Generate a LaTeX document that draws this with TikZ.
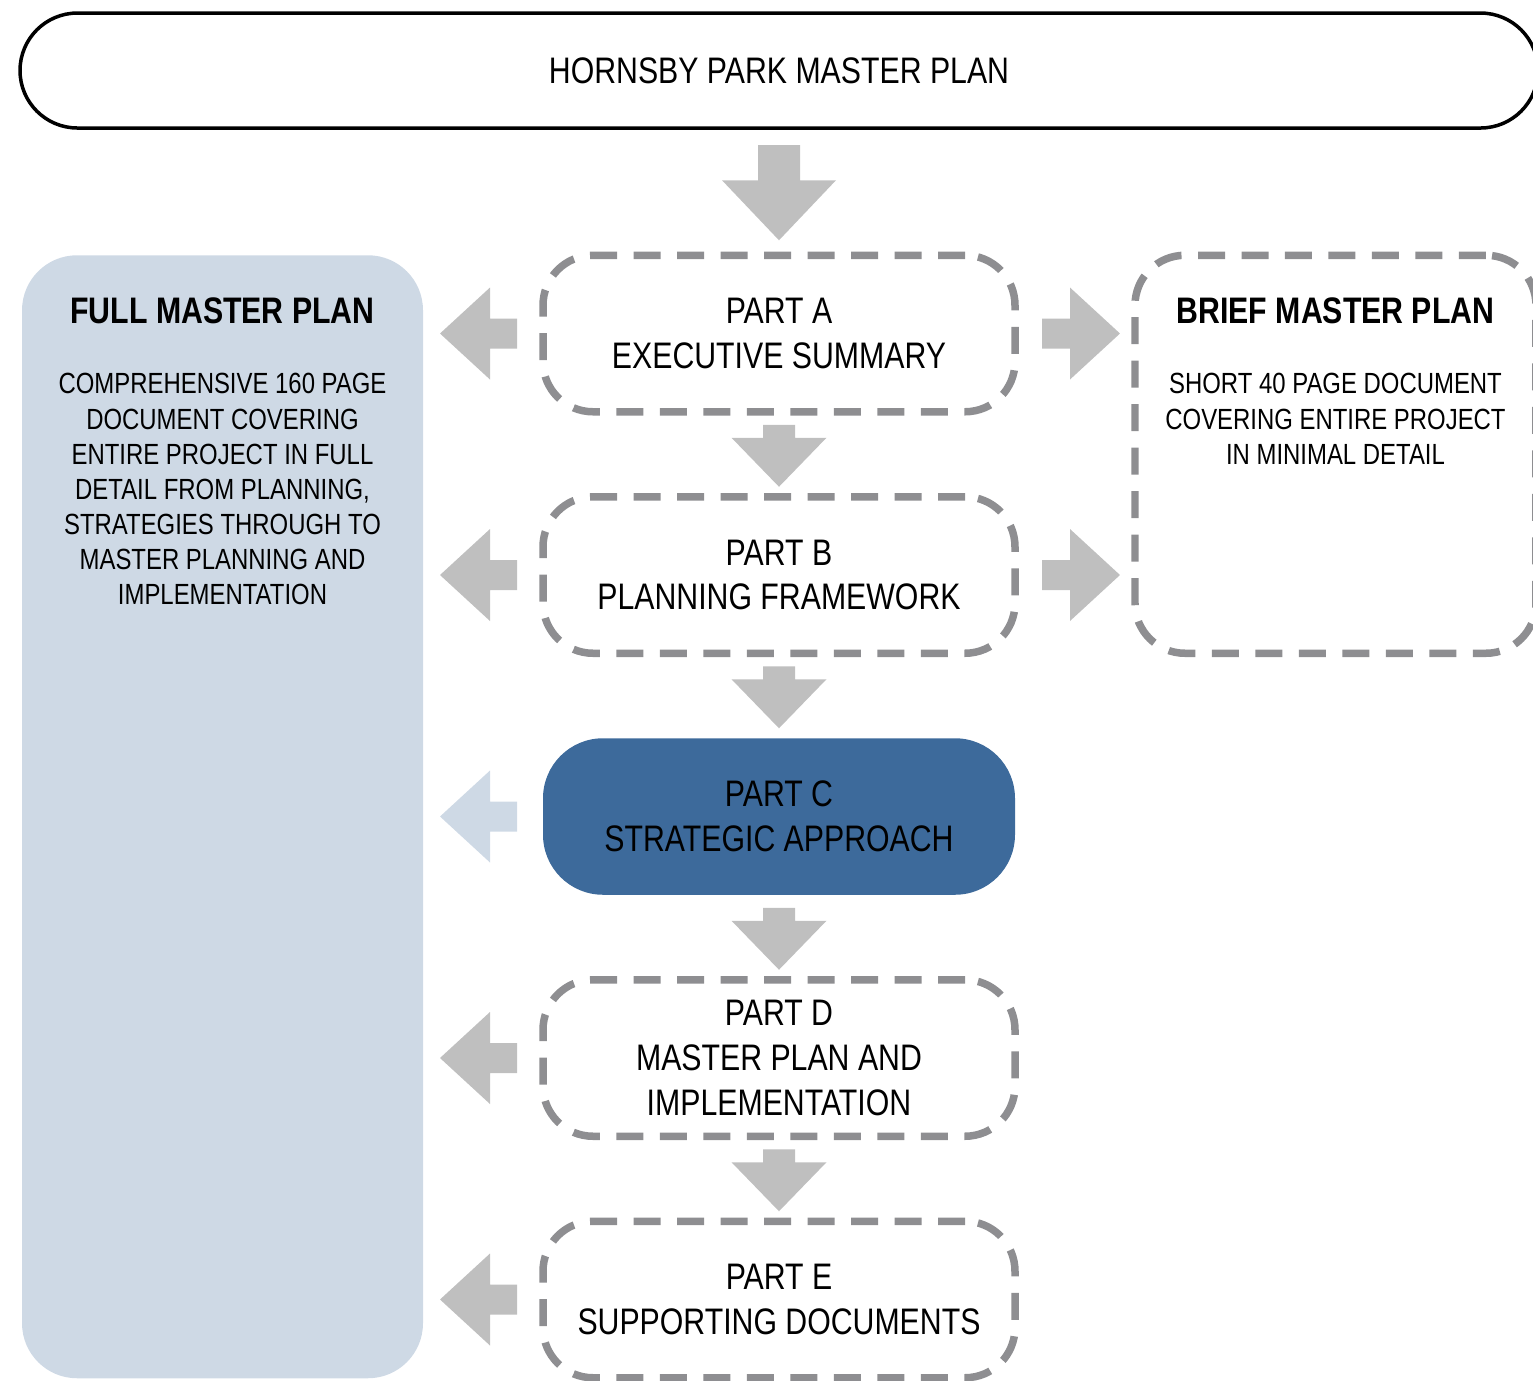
\documentclass[tikz,border=0pt]{standalone}
\usepackage{fontspec}
\setmainfont[FakeStretch=0.82]{Liberation Sans}
\usetikzlibrary{positioning,calc}
\definecolor{dashgray}{RGB}{142,142,145}
\definecolor{arrgray}{RGB}{191,191,191}
\definecolor{panelblue}{RGB}{206,217,229}
\definecolor{partblue}{RGB}{61,106,155}
\tikzset{topbox/.style={draw=black,line width=0.35mm,rounded corners=5.75mm,minimum width=151.8mm,minimum height=11.5mm,outer sep=0pt,font=\fontsize{10.5}{12.7}\selectfont},partbox/.style={draw=dashgray,line width=0.75mm,dash pattern=on 2.7mm off 1.65mm,rounded corners=5mm,minimum width=47.2mm,minimum height=15.65mm,align=center,outer sep=0pt,font=\fontsize{10.5}{12.7}\selectfont},keybox/.style={partbox,draw=none,fill=partblue,rounded corners=6mm},briefbox/.style={partbox,minimum width=40.1mm,minimum height=39.8mm},panel/.style={fill=panelblue,rounded corners=5.5mm,minimum width=40.1mm,minimum height=112.3mm,outer sep=0pt},headtxt/.style={font=\bfseries\fontsize{10.5}{12.7}\selectfont,inner sep=0pt},bodytxt/.style={font=\fontsize{8.3}{10}\selectfont,align=center,inner sep=0pt}}
% block arrow: [colour]{from}{to}{half shaft}{half head}{head length}
\newcommand{\blockarrow}[6][arrgray]{%
\path ($(#3)!#6!(#2)$) coordinate (hb);
\fill[#1] ($(#2)!#4!90:(#3)$) -- ($(hb)!#4!90:(#3)$) -- ($(hb)!#5!90:(#3)$) -- (#3) -- ($(hb)!#5!-90:(#3)$) -- ($(hb)!#4!-90:(#3)$) -- ($(#2)!#4!-90:(#3)$) -- cycle;}
\begin{document}
\begin{tikzpicture}[x=0.1mm,y=-0.1mm,node distance=8.5mm and 12mm]
\useasboundingbox (0,0) rectangle (1533,1380);
\node[topbox] (hpmp) at (779,70.5) {HORNSBY PARK MASTER PLAN};
\node[partbox] (pa) at (779,333.5) {PART A\\EXECUTIVE SUMMARY};
\node[partbox,below=of pa] (pb) {PART B\\PLANNING FRAMEWORK};
\node[keybox,below=of pb] (pc) {PART C\\STRATEGIC APPROACH};
\node[partbox,below=of pc] (pd) {PART D\\MASTER PLAN AND\\IMPLEMENTATION};
\node[partbox,below=of pd] (pe) {PART E\\SUPPORTING DOCUMENTS};
\node[panel,left=12mm of pa.north west,anchor=north east] (full) {};
\node[briefbox,right=12mm of pa.north east,anchor=north west] (brief) {};
% panel texts
\node[headtxt,below=4.2mm of full.north] (fullttl) {FULL MASTER PLAN};
\node[bodytxt,below=4.8mm of fullttl] (fullbody) {COMPREHENSIVE 160 PAGE\\DOCUMENT COVERING\\ENTIRE PROJECT IN FULL\\DETAIL FROM PLANNING,\\STRATEGIES THROUGH TO\\MASTER PLANNING AND\\IMPLEMENTATION};
\node[headtxt,below=4.2mm of brief.north] (briefttl) {BRIEF MASTER PLAN};
\node[bodytxt,below=4.8mm of briefttl] (briefbody) {SHORT 40 PAGE DOCUMENT\\COVERING ENTIRE PROJECT\\IN MINIMAL DETAIL};
% arrows
\path (hpmp.south) ++(0,17) coordinate (s) (pa.north) ++(0,-15) coordinate (t);
\blockarrow{s}{t}{2.1mm}{5.7mm}{6mm}
\foreach \u/\l in {pa/pb,pb/pc,pc/pd,pd/pe}{
\path (\u.south) ++(0,13) coordinate (s) (\l.north) ++(0,-10) coordinate (t);
\blockarrow{s}{t}{1.6mm}{4.75mm}{4.9mm}}
\foreach \p/\c in {pa/arrgray,pb/arrgray,pc/panelblue,pd/arrgray,pe/arrgray}{
\path (\p.west) ++(-26,0) coordinate (s) (full.east |- \p.west) ++(17,0) coordinate (t);
\blockarrow[\c]{s}{t}{1.5mm}{4.6mm}{5mm}}
\foreach \p in {pa,pb}{
\path (\p.east) ++(27,0) coordinate (s) (brief.west |- \p.east) ++(-15,0) coordinate (t);
\blockarrow{s}{t}{1.5mm}{4.6mm}{5mm}}
\end{tikzpicture}
\end{document}
